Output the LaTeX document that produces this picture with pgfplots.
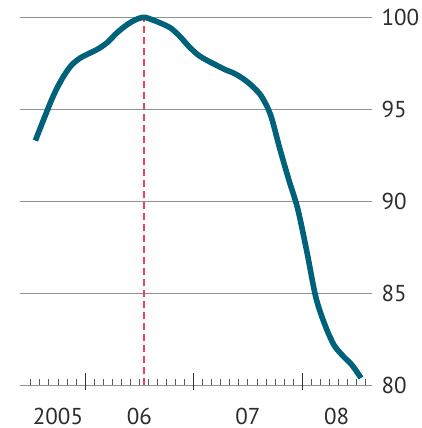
\documentclass[border=0pt]{standalone}
\usepackage{fontspec}
\setmainfont{PT Sans}
\usepackage{pgfplots}
\pgfplotsset{compat=1.18}
\definecolor{linecol}{RGB}{0,98,122}
\definecolor{gridgray}{RGB}{145,145,145}
\definecolor{redd}{RGB}{236,70,86}
\definecolor{txt}{RGB}{45,45,45}
\begin{document}
\begin{tikzpicture}[x=1pt,y=1pt]
\path[use as bounding box] (0,0) rectangle (421,428);
\begin{axis}[
  at={(20pt,42.7pt)}, anchor=south west,
  scale only axis, width=352.3pt, height=368pt,
  xmin=4.8, xmax=43.75, ymin=80, ymax=100,
  axis line style={draw=none},
  clip=false,
  /pgf/number format/assume math mode=true,
  ytick={80,85,90,95,100},
  ymajorgrids, grid style={gridgray, line width=1.4pt},
  ytick pos=right, yticklabel pos=right,
  xtick pos=bottom,
  xtick={9,18,30,39.8}, xticklabels={2005,06,07,08},
  major tick length=0pt,
  minor xtick={6,...,43}, minor tick length=6.5pt, tick align=inside,
  minor tick style={black!65, line width=0.9pt},
  extra x ticks={12,24,36}, extra x tick labels={},
  extra x tick style={major tick length=17pt, tick style={black!80, line width=1pt, yshift=-5pt}},
  xticklabel style={font=\fontsize{23}{23}\selectfont, text=txt, anchor=base, inner sep=0pt, yshift=-39pt},
  yticklabel style={font=\fontsize{23}{23}\selectfont, text=txt, anchor=west, inner sep=0pt, xshift=9pt},
]
\addplot[redd, line width=1.3pt, dash pattern=on 7pt off 4pt] coordinates {(18.5,80) (18.5,100)};
\addplot[linecol, line width=5.6pt, smooth, line join=round, line cap=butt] coordinates {
(6.5,93.3) (7.5,94.55) (8.5,95.75) (9.5,96.7) (10.5,97.4) (11.5,97.8) (12.5,98.05)
(13.5,98.3) (14.5,98.65) (15.5,99.15) (16.5,99.55) (17.5,99.85) (18.5,100.0)
(19.5,99.85) (20.5,99.65) (21.5,99.4) (22.5,98.95) (23.5,98.4) (24.5,97.95)
(25.5,97.65) (26.5,97.4) (27.5,97.15) (28.5,96.95) (29.5,96.65) (30.5,96.25)
(31.5,95.7) (32.5,94.7) (33.5,92.9) (34.5,91.2) (35.5,89.6) (36.5,87.3)
(37.5,84.8) (38.5,83.3) (39.5,82.2) (40.5,81.6) (41.5,81.1) (42.5,80.4)
};
\end{axis}
\end{tikzpicture}
\end{document}
